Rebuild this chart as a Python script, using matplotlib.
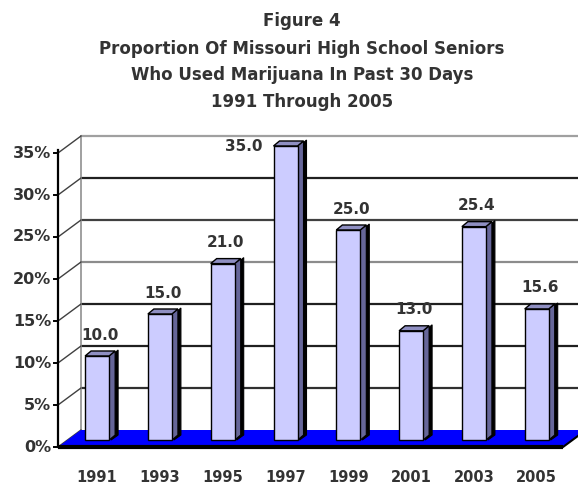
import matplotlib
matplotlib.use("Agg")
import matplotlib.pyplot as plt
from matplotlib.patches import Polygon

# ---------------- data ----------------
years = ["1991", "1993", "1995", "1997", "1999", "2001", "2003", "2005"]
values = [10.0, 15.0, 21.0, 35.0, 25.0, 13.0, 25.4, 15.6]
value_labels = ["10.0", "15.0", "21.0", "35.0", "25.0", "13.0", "25.4", "15.6"]
yticks = [0, 5, 10, 15, 20, 25, 30, 35]
ytick_labels = ["0%", "5%", "10%", "15%", "20%", "25%", "30%", "35%"]
title_lines = ["Figure 4",
               "Proportion Of Missouri High School Seniors",
               "Who Used Marijuana In Past 30 Days",
               "1991 Through 2005"]

# ---------------- layout ----------------
W, H = 578, 487
fig = plt.figure(figsize=(W / 100, H / 100), dpi=100)
ax = fig.add_axes([0, 0, 1, 1])
X0_PX, SX = 97.1, 62.8     # pixel of category 0, pixels per category
Y0_PX, SY = 440.0, 8.4     # pixel of value 0 on bar plane, pixels per unit
ax.set_xlim((0 - X0_PX) / SX, (W - X0_PX) / SX)
ax.set_ylim((Y0_PX - H) / SY, Y0_PX / SY)
ax.axis("off")

def dxp(p):
    return p / SX

def dyp(p):
    return p / SY

n = len(values)
ymax = yticks[-1]
FX0 = dxp(58 - X0_PX)          # front-left x of frame
FXR = dxp(563 - X0_PX)         # front-right x of floor
FY = -dyp(7)                   # front plane value offset
DEPX, DEPY = dxp(23), dyp(17)  # frame depth
BX0, BXR, BY = FX0 + DEPX, FXR + DEPX, FY + DEPY

grid_colors = {5: "#303030", 10: "#202020", 15: "#202020", 20: "#8c8c8c",
               25: "#404040", 30: "#202020", 35: "#a0a0a0"}

# back wall gridlines
for t in yticks[1:]:
    ax.plot([BX0, BXR], [t + BY, t + BY], color=grid_colors[t], lw=1.6,
            zorder=1, solid_capstyle="butt")
# back wall left edge
ax.plot([BX0, BX0], [BY, ymax + BY], color="#a0a0a0", lw=1.4, zorder=1)
# side wall connectors + front ticks
for t in yticks:
    ax.plot([FX0, BX0], [t + FY, t + BY], color="#404040", lw=1.0, zorder=1)
    ax.plot([FX0 - dxp(4), FX0], [t + FY, t + FY], color="black", lw=1.4, zorder=2)
# front axis
ax.plot([FX0, FX0], [FY, ymax + FY + dyp(3)], color="black", lw=1.6, zorder=2)

# floor
floor = Polygon([(FX0, FY), (FXR, FY), (BXR, BY), (BX0, BY)], closed=True,
                facecolor="#0000ff", edgecolor="none", zorder=2)
ax.add_patch(floor)
ax.plot([FX0, FXR], [FY, FY], color="black", lw=3.0, zorder=3,
        solid_capstyle="butt")
ax.plot([FXR, BXR], [FY, BY], color="black", lw=1.5, zorder=3)

# bars (3-D look)
bw = dxp(24)
ddx, ddy = dxp(6), dyp(5)
xs = list(range(n))
for x, v in zip(xs, values):
    r = x + bw / 2
    l = x - bw / 2
    shadow = Polygon([(r + dxp(2), 0), (r + ddx + dxp(3), ddy),
                      (r + ddx + dxp(3), v + ddy + dyp(1)), (r + dxp(2), v)],
                     closed=True, facecolor="black", edgecolor="black",
                     lw=0.8, zorder=4)
    ax.add_patch(shadow)
    side = Polygon([(r, 0), (r + ddx, ddy), (r + ddx, v + ddy), (r, v)],
                   closed=True, facecolor="#666699", edgecolor="black",
                   lw=0.8, zorder=5)
    ax.add_patch(side)
    top = Polygon([(l, v), (r, v), (r + ddx, v + ddy), (l + ddx, v + ddy)],
                  closed=True, facecolor="#8f8fc2", edgecolor="black",
                  lw=1.0, zorder=5)
    ax.add_patch(top)
ax.bar(xs, values, width=bw, color="#ccccff", edgecolor="black",
       linewidth=1.0, zorder=6)

# value labels
for x, v, lab in zip(xs, values, value_labels):
    if v + 2.5 > ymax:
        ax.text(x - 0.67, v - 0.1, lab, ha="center", va="center",
                fontsize=11, fontweight="bold", color="#333333", zorder=7)
    else:
        ax.text(x + 0.05, v + 2.5, lab, ha="center", va="center",
                fontsize=11, fontweight="bold", color="#333333", zorder=7)

# y tick labels
for t, lab in zip(yticks, ytick_labels):
    ax.text(dxp(51 - X0_PX), t + FY, lab, ha="right", va="center",
            fontsize=11.5, fontweight="bold", color="#333333")

# x labels
for x, lab in zip(xs, years):
    ax.text(x, -dyp(37), lab, ha="center", va="center",
            fontsize=10.5, fontweight="bold", color="#333333")

# title
for ty, line in zip([21, 49, 75, 102], title_lines):
    fig.text(302 / W, 1 - ty / H, line, ha="center", va="center",
             fontsize=12, fontweight="bold", color="#333333")

fig.savefig("out.png", dpi=100)
